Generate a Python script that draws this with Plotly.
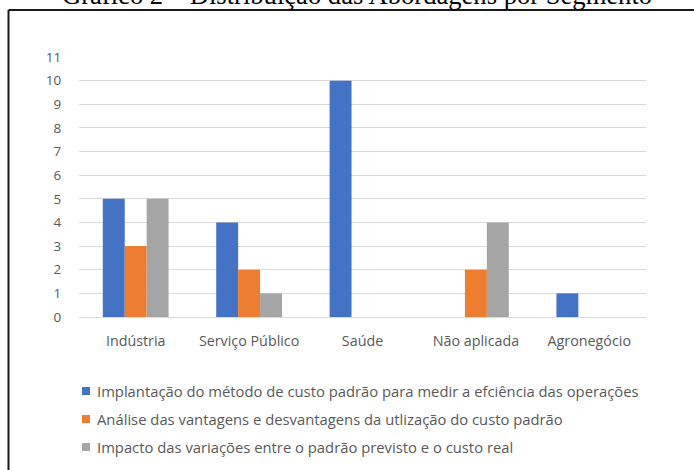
import plotly.graph_objects as go

categories = ["Indústria", "Serviço Público", "Saúde", "Não aplicada", "Agronegócio"]
series_names = [
    "Implantação do método de custo padrão para medir a efciência das operações",
    "Análise das vantagens e desvantagens da utlização do custo padrão",
    "Impacto das variações entre o padrão previsto e o custo real",
]
implantacao = [5, 4, 10, None, 1]
analise = [3, 2, None, 2, None]
impacto = [5, 1, None, 4, None]
series_values = [implantacao, analise, impacto]
colors = ["#4472C4", "#ED7D31", "#A5A5A5"]
y_ticks = list(range(0, 12))
title = "Gráfico 2 – Distribuição das Abordagens por Segmento"

W, H = 694, 470
L, R, T, B = 79, 646, 57, 317

def px(x):
    return (x - L) / (R - L)

def py(y):
    return (B - y) / (B - T)

FONT = "Open Sans"
TXT = "#595959"

fig = go.Figure()
for name, vals, c in zip(series_names, series_values, colors):
    fig.add_trace(go.Bar(x=categories, y=vals, name=name, marker_color=c,
                         marker_line_width=0, showlegend=False, hoverinfo="skip"))

fig.update_layout(
    width=W, height=H,
    margin=dict(l=L, r=W - R, t=T, b=H - B, pad=0),
    paper_bgcolor="white", plot_bgcolor="white",
    barmode="group", bargap=0.42, bargroupgap=0,
    font=dict(family=FONT, size=14, color=TXT),
    showlegend=False,
)
fig.update_yaxes(range=[0, 11], tickvals=y_ticks, showgrid=True, gridcolor="#D9D9D9",
                 gridwidth=1, zeroline=False, showline=False,
                 ticks="outside", ticklen=14, tickcolor="rgba(0,0,0,0)",
                 tickfont=dict(family=FONT, size=13.5, color=TXT))
fig.update_xaxes(showgrid=False, showline=True, linecolor="#D9D9D9", linewidth=1,
                 ticks="outside", ticklen=11, tickcolor="rgba(0,0,0,0)",
                 tickfont=dict(family=FONT, size=14.3, color=TXT))

# Title (partly cut at top, as in the reference)
fig.add_annotation(text=title, xref="paper", yref="paper", x=px(357), y=py(12),
                   xanchor="center", yanchor="bottom", showarrow=False,
                   font=dict(family="Liberation Serif", size=26.6, color="black"))

# Border lines
fig.add_shape(type="line", xref="paper", yref="paper", x0=px(8.5), x1=px(700),
              y0=py(10), y1=py(10), line=dict(color="#1a1a1a", width=2))
fig.add_shape(type="line", xref="paper", yref="paper", x0=px(8.5), x1=px(8.5),
              y0=py(10), y1=py(480), line=dict(color="#1a1a1a", width=2))

# Legend (manual)
rows = [391, 419, 447]
for name, c, yy in zip(series_names, colors, rows):
    fig.add_shape(type="rect", xref="paper", yref="paper", x0=px(82), x1=px(90),
                  y0=py(yy + 4), y1=py(yy - 4), fillcolor=c, line=dict(width=0))
    fig.add_annotation(text=name, xref="paper", yref="paper", x=px(95), y=py(yy),
                       xanchor="left", yanchor="middle", showarrow=False,
                       font=dict(family=FONT, size=14.8, color=TXT))

fig.write_html("out.html", config={"displayModeBar": False},
               post_script="document.body.style.margin='0';")
